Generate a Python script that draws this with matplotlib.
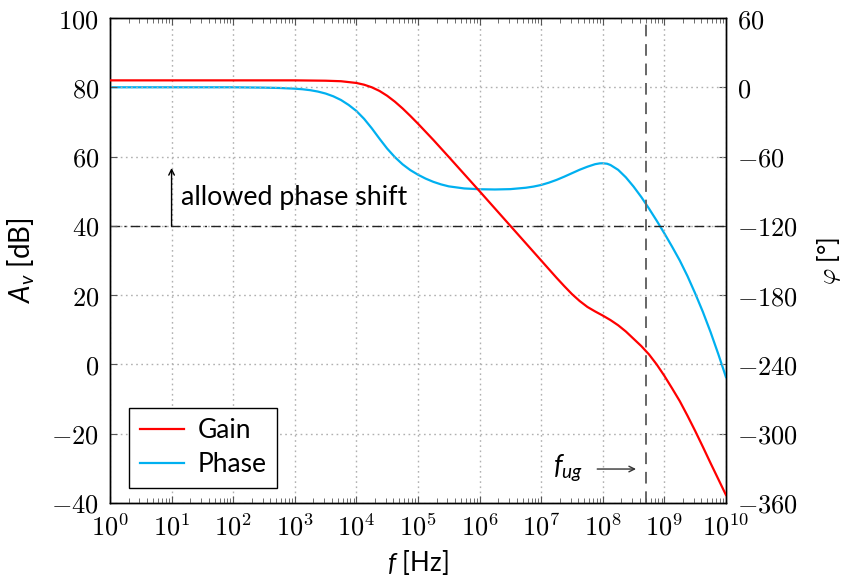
import numpy as np
import matplotlib
matplotlib.use("Agg")
import matplotlib.pyplot as plt
from matplotlib.ticker import FixedLocator, LogLocator, NullFormatter, FuncFormatter

plt.rcParams['font.family'] = ['Lato', 'DejaVu Sans']
plt.rcParams['mathtext.fontset'] = 'cm'
plt.rcParams['mathtext.rm'] = 'Lato'
plt.rcParams['mathtext.it'] = 'Lato:italic'

# ---- data ----
gain_logf = [0, 1, 2, 3, 3.5, 3.75, 4.0, 4.125, 4.25, 4.375, 4.5, 4.625, 4.75, 4.875,
             5.0, 5.25, 5.5, 5.75, 6.0, 6.25, 6.5, 6.75, 7.0, 7.125, 7.25, 7.375, 7.5,
             7.625, 7.75, 7.875, 8.0, 8.125, 8.25, 8.375, 8.5, 8.625, 8.75, 8.875, 9.0,
             9.125, 9.25, 9.375, 9.5, 9.625, 9.75, 9.875, 10.0]
gain_db = [82, 82, 82, 82, 81.9, 81.75, 81.25, 80.75, 80.0, 78.95, 77.55, 75.85, 73.9, 71.75,
           69.5, 64.8, 59.9, 54.95, 50.0, 45.0, 40.0, 35.0, 30.0, 27.5, 25.0, 22.6, 20.3,
           18.3, 16.6, 15.3, 14.1, 12.8, 11.3, 9.5, 7.4, 5.3, 2.9, 0.0, -3.3,
           -6.9, -10.6, -14.8, -19.2, -23.8, -28.5, -33.1, -37.7]

phase_logf = [0, 1, 2, 2.5, 2.75, 3.0, 3.125, 3.25, 3.375, 3.5, 3.625, 3.75, 3.875, 4.0,
              4.125, 4.25, 4.375, 4.5, 4.625, 4.75, 4.875, 5.0, 5.125, 5.25, 5.375, 5.5,
              5.75, 6.0, 6.25, 6.5, 6.75, 6.875, 7.0, 7.125, 7.25, 7.375, 7.5, 7.625,
              7.75, 7.875, 7.95, 8.0, 8.07, 8.125, 8.25, 8.375, 8.5, 8.625, 8.75, 8.875,
              9.0, 9.125, 9.25, 9.375, 9.5, 9.625, 9.75, 9.875, 10.0]
phase_deg = [0, 0, 0, -0.3, -0.6, -1.2, -1.7, -2.5, -3.7, -5.4, -7.8, -11.0, -15.3, -20.5,
             -27.3, -35.5, -44.5, -53.1, -60.5, -66.7, -71.7, -75.7, -79.1, -81.9, -84.1, -85.8,
             -87.6, -88.3, -88.5, -88.2, -87.0, -86.0, -84.6, -82.6, -80.2, -77.4, -74.4, -71.4,
             -68.8, -66.6, -65.9, -65.8, -66.2, -67.3, -71.5, -78.0, -86.0, -95.0, -105.0, -115.5,
             -126.5, -138.0, -150.0, -163.5, -178.5, -194.5, -212.0, -231.0, -251.0]

gain_ticks = [-40, -20, 0, 20, 40, 60, 80, 100]
phase_ticks = [-360, -300, -240, -180, -120, -60, 0, 60]
decades = list(range(0, 11))
f_ug = 5e8
allowed_level = 40

red = '#ff0000'
cyan = '#00b0f0'

fig = plt.figure(figsize=(8.42, 5.79), dpi=100)
ax = fig.add_axes([0.1306, 0.1313, 0.7316, 0.8376])
ax2 = ax.twinx()

f_g = 10.0 ** np.array(gain_logf)
f_p = 10.0 ** np.array(phase_logf)

ax.set_xscale('log')
ax.set_xlim(1, 1e10)
ax.set_ylim(-40, 100)
ax2.set_ylim(-360, 60)

# grid
for t in gain_ticks:
    ax.axhline(t, color='#b0b0b0', lw=1.0, ls=(0, (1.2, 2.5)), zorder=0)
for d in decades:
    ax.axvline(10.0 ** d, color='#b0b0b0', lw=1.0, ls=(0, (1.2, 2.5)), zorder=0)

# reference lines
ax.axhline(allowed_level, color='#222222', lw=1.0, ls=(0, (7, 3, 1.5, 3)), zorder=1)
ax.axvline(f_ug, color='#666666', lw=1.4, ls=(0, (6, 4)), zorder=1)

lg, = ax.plot(f_g, gain_db, color=red, lw=1.6, zorder=3, label='Gain')
lp, = ax2.plot(f_p, phase_deg, color=cyan, lw=1.6, zorder=3, label='Phase')

# ticks
ax.xaxis.set_major_locator(FixedLocator([10.0 ** d for d in decades]))
ax.xaxis.set_minor_locator(LogLocator(base=10, subs=np.arange(2, 10), numticks=100))
ax.xaxis.set_minor_formatter(NullFormatter())
ax.xaxis.set_major_formatter(FuncFormatter(lambda v, p: r'$10^{%d}$' % round(np.log10(v))))
ax.yaxis.set_major_locator(FixedLocator(gain_ticks))
ax.yaxis.set_major_formatter(FuncFormatter(lambda v, p: r'$%d$' % v))
ax2.yaxis.set_major_locator(FixedLocator(phase_ticks))
ax2.yaxis.set_major_formatter(FuncFormatter(lambda v, p: r'$%d$' % v))

ax.tick_params(axis='x', which='major', direction='in', top=True, bottom=True,
               length=5, width=0.8, color='#555555', labelsize=19, pad=8)
ax.tick_params(axis='x', which='minor', direction='in', top=True, bottom=True,
               length=3.5, width=0.6, color='#555555')
ax.tick_params(axis='y', which='major', direction='in', left=True, right=False,
               length=5, width=0.8, color='#555555', labelsize=19, pad=8)
ax2.tick_params(axis='y', which='major', direction='in', left=False, right=True,
                length=5, width=0.8, color='#555555', labelsize=19, pad=8)

for a in (ax, ax2):
    for s in a.spines.values():
        s.set_color('black')
        s.set_linewidth(1.0)

# labels
ax.set_xlabel(r'$f$ [Hz]', fontsize=18.5, math_fontfamily='custom', labelpad=5)
ax.set_ylabel(r'$A_v$ [dB]', fontsize=20, math_fontfamily='custom', labelpad=10)
ax2.set_ylabel(r'$\varphi$ [°]', fontsize=18, math_fontfamily='cm', labelpad=12)

# annotations
ax.annotate('', xy=(10, 56.7), xytext=(10, allowed_level),
            arrowprops=dict(arrowstyle='->', color='black', lw=1.0,
                            shrinkA=0, shrinkB=0, mutation_scale=10))
ax.text(10 ** 1.15, 48.3, 'allowed phase shift', fontsize=19.3, va='center', ha='left')

ax.annotate('', xy=(10 ** 8.54, -30.2), xytext=(10 ** 7.91, -30.2),
            arrowprops=dict(arrowstyle='->', color='#333333', lw=1.0,
                            shrinkA=0, shrinkB=0, mutation_scale=10))
ax.text(10 ** 7.43, -29.9, r'$f_{ug}$', fontsize=19.5, va='center', ha='center',
        math_fontfamily='custom')

leg = ax.legend(handles=[lg, lp], loc='lower left', bbox_to_anchor=(0.031, 0.031),
                fontsize=19, frameon=True, fancybox=False, edgecolor='black',
                framealpha=1, handlelength=1.7, borderpad=0.4, labelspacing=0.35,
                handletextpad=0.5, borderaxespad=0)
leg.get_frame().set_linewidth(1.0)
leg.set_zorder(10)
ax.set_zorder(ax2.get_zorder() + 1)
ax.patch.set_visible(False)

fig.savefig('out.png', dpi=100)
